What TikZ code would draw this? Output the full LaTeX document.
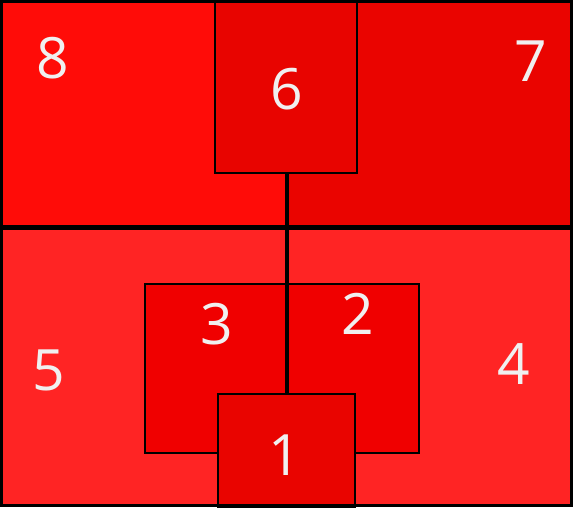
\documentclass[tikz,border=0pt]{standalone}
\usepackage{fontspec}
\setmainfont{Open Sans}

\definecolor{rotacht}{RGB}{255,12,8}
\definecolor{rotsieben}{RGB}{234,4,0}
\definecolor{rotsechs}{RGB}{232,4,0}
\definecolor{rotunten}{RGB}{255,36,36}
\definecolor{rotmitte}{RGB}{240,0,0}
\definecolor{roteins}{RGB}{233,4,0}
\definecolor{ziffer}{RGB}{240,240,240}

\begin{document}
\begin{tikzpicture}[x=1pt,y=-1pt,
    feld/.style={draw=black, line width=2.5pt},
    zahl/.style={text=ziffer, font=\fontsize{57}{57}\selectfont, inner sep=0pt}]
    \useasboundingbox (0,0) rectangle (573,507);

    % Flaechen oben und unten
    \fill[rotacht] (0,0) rectangle (287,227);
    \fill[rotsieben] (287,0) rectangle (573,227);
    \fill[rotunten] (0,227) rectangle (573,507);

    % Felder 3 und 2
    \draw[feld, fill=rotmitte] (145,284) rectangle (419,453);
    % Feld 1
    \draw[feld, fill=roteins] (218,394) rectangle (355,507);
    % Feld 6
    \draw[feld, fill=rotsechs] (215,2) rectangle (357,173);

    % Trennlinien
    \draw[line width=4.5pt] (287,173) -- (287,227);
    \draw[line width=3.5pt] (287,227) -- (287,395);
    \draw[line width=5pt] (0,227) -- (573,227);
    \draw[line width=3pt] (1.5,1.5) rectangle (571.5,505.5);

    % Ziffern
    \node[zahl] (acht) at (53,58) {8};
    \node[zahl] (sieben) at (531,61) {7};
    \node[zahl] (sechs) at (287,89) {6};
    \node[zahl] (fuenf) at (49,370) {5};
    \node[zahl] (vier) at (514,364) {4};
    \node[zahl] (drei) at (217,324) {3};
    \node[zahl] (zwei) at (358,314) {2};
    \node[zahl] (eins) at (285,455) {1};
\end{tikzpicture}
\end{document}
